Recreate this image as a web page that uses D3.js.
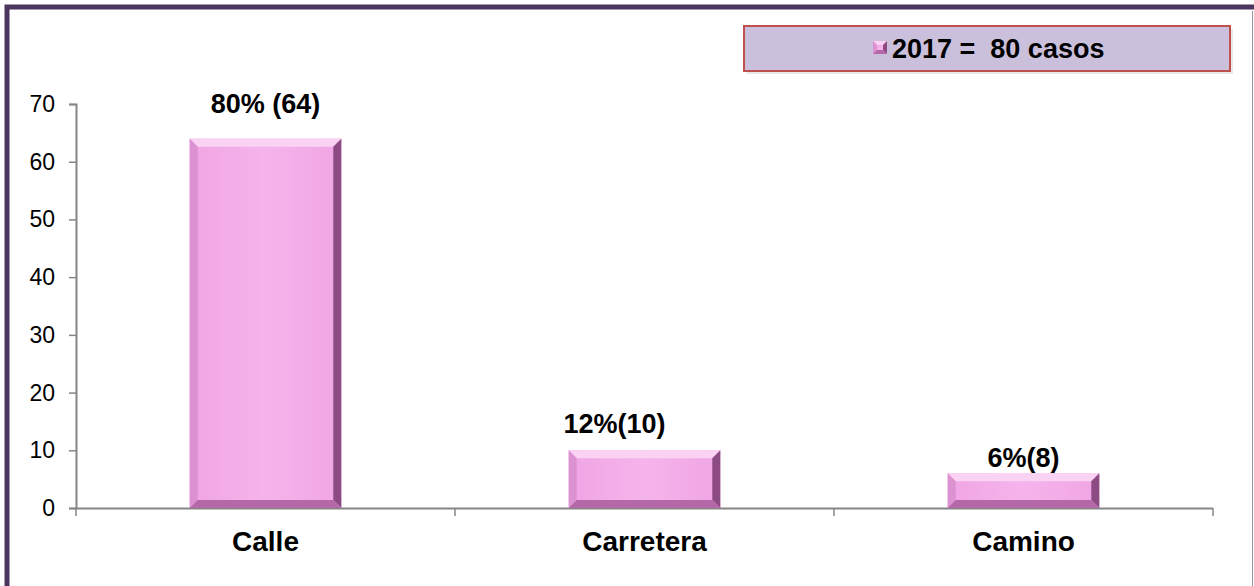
<!DOCTYPE html>
<html>
<head>
<meta charset="utf-8">
<script src="https://cdn.jsdelivr.net/npm/d3@7.9.0/dist/d3.min.js"></script>
<style>
  body { margin: 0; background: #fff; }
  svg { display: block; font-family: "Liberation Sans", Arial, sans-serif; }
</style>
</head>
<body>
<svg width="1254" height="586"></svg>
<script>
const categories = ['Calle', 'Carretera', 'Camino'];
const values = [64, 10, 6];
const valueLabels = ['80% (64)', '12%(10)', '6%(8)'];
const yTicks = [0, 10, 20, 30, 40, 50, 60, 70];
const legendLabel = '2017 =  80 casos';

const svg = d3.select('svg');

// outer frame
svg.append('rect').attr('x', 7).attr('y', 7).attr('width', 1300).attr('height', 700)
  .attr('fill', 'none').attr('stroke', '#4b3560').attr('stroke-width', 5);
svg.append('line').attr('x1', 1252.5).attr('x2', 1252.5).attr('y1', 11).attr('y2', 586)
  .attr('stroke', '#9a94a4').attr('stroke-width', 1);

let x = d3.scaleBand().domain(categories).range([76, 1213]).paddingInner(0.6).paddingOuter(0.3);
let y = d3.scaleLinear().domain([0, 70]).range([508, 104]);

function label(sel, tx, ty, size, bold, anchor, str) {
  return sel.append('text')
    .attr('x', tx).attr('y', ty)
    .attr('text-anchor', anchor)
    .attr('font-size', size)
    .attr('font-weight', bold ? 'bold' : 'normal')
    .attr('fill', '#000')
    .style('white-space', 'pre')
    .text(str);
}

// axes
const axisColor = '#868686';
let yAxis = svg.append('g').attr('transform', 'translate(76,0)')
  .call(d3.axisLeft(y).tickValues(yTicks).tickSize(7).tickFormat(''));
yAxis.select('.domain').attr('stroke', axisColor).attr('stroke-width', 2);
yAxis.selectAll('.tick line').attr('stroke', axisColor).attr('stroke-width', 1.5);
yTicks.forEach(t => label(svg, 55, y(t) + 8, 23, false, 'end', String(t)));

let bounds = [76, 455, 834, 1213];
svg.append('line').attr('x1', 76).attr('x2', 1213).attr('y1', 508.5).attr('y2', 508.5)
  .attr('stroke', axisColor).attr('stroke-width', 2);
bounds.forEach(b => {
  svg.append('line').attr('x1', b).attr('x2', b).attr('y1', 508).attr('y2', 516)
    .attr('stroke', axisColor).attr('stroke-width', 1.5);
});

// bevelled bars
let defs = svg.append('defs');
let g = defs.append('linearGradient').attr('id', 'face').attr('x1', 0).attr('x2', 1).attr('y1', 0).attr('y2', 0);
g.append('stop').attr('offset', '0%').attr('stop-color', '#f0a5e4');
g.append('stop').attr('offset', '50%').attr('stop-color', '#f5b4eb');
g.append('stop').attr('offset', '100%').attr('stop-color', '#f0a5e4');

function drawBar(sel, x0, y0, w, h, b) {
  let x1 = x0 + w, y1 = y0 + h;
  b = Math.min(b, h / 2.5);
  sel.append('rect').attr('x', x0).attr('y', y0).attr('width', w).attr('height', h).attr('fill', 'url(#face)');
  sel.append('polygon').attr('points', [[x0, y0], [x1, y0], [x1 - b, y0 + b], [x0 + b, y0 + b]].join(' '))
    .attr('fill', '#fad3f4');
  sel.append('polygon').attr('points', [[x0, y0], [x0 + b, y0 + b], [x0 + b, y1 - b], [x0, y1]].join(' '))
    .attr('fill', '#dc92d0');
  sel.append('polygon').attr('points', [[x1, y0], [x1, y1], [x1 - b, y1 - b], [x1 - b, y0 + b]].join(' '))
    .attr('fill', '#8c4b82');
  sel.append('polygon').attr('points', [[x0, y1], [x0 + b, y1 - b], [x1 - b, y1 - b], [x1, y1]].join(' '))
    .attr('fill', '#b468a8');
}

categories.forEach((c, i) => {
  let bar = svg.append('g');
  drawBar(bar, x(c), y(values[i]), x.bandwidth(), y(0) - y(values[i]), 8);
});

// value labels
const labelGap = [26, 17, 6];
const labelShift = [0, -30, 0];
categories.forEach((c, i) => {
  label(svg, x(c) + x.bandwidth() / 2 + labelShift[i], y(values[i]) - labelGap[i],
    27, true, 'middle', valueLabels[i]);
});

// category labels
categories.forEach(c => {
  label(svg, x(c) + x.bandwidth() / 2, 551, 28, true, 'middle', c);
});

// legend
let lg = svg.append('g');
lg.append('rect').attr('x', 747).attr('y', 29).attr('width', 486).attr('height', 45).attr('fill', '#d8d8d8').attr('opacity', 0.6);
lg.append('rect').attr('x', 744).attr('y', 26).attr('width', 486).attr('height', 45)
  .attr('fill', '#cbc0dc').attr('stroke', '#c0504d').attr('stroke-width', 2);
drawBar(lg, 873, 41, 14, 13, 4);
label(lg, 892, 58, 27, true, 'start', legendLabel);
</script>
</body>
</html>
